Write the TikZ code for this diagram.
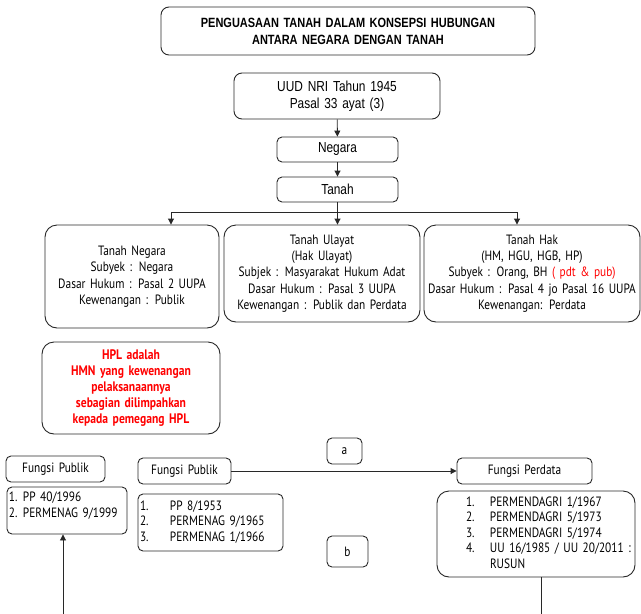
\documentclass[tikz,border=0pt]{standalone}
\usepackage{fontspec}
\setmainfont{PT Sans}[FakeStretch=0.84]
\newfontfamily\arialn{Liberation Sans}[FakeStretch=0.82]
\usetikzlibrary{arrows.meta}
\definecolor{hplred}{RGB}{255,0,0}
\definecolor{edge}{RGB}{40,40,40}

\begin{document}
\begin{tikzpicture}[x=1pt,y=-1pt,
  box/.style={draw=edge,line width=0.9pt,rounded corners=5pt,inner xsep=0pt,inner ysep=0pt,align=center},
  bigbox/.style={box,rounded corners=12pt},
  topfont/.style={font=\arialn\fontsize{14.5}{16.5}\selectfont},
  midfont/.style={font=\fontsize{13.5}{16.3}\selectfont},
  lowfont/.style={font=\fontsize{13.5}{15.5}\selectfont},
  arr/.style={draw=edge,line width=0.9pt,-{Triangle[length=6pt,width=6pt]}},
  ln/.style={draw=edge,line width=0.9pt}]
\useasboundingbox (0,0) rectangle (641,614);

% title and the chain down to Tanah
\node[box,rounded corners=8pt,text width=374pt,minimum height=48pt,
      font=\arialn\bfseries\fontsize{13.4}{17}\selectfont] (title) at (348,31)
      {PENGUASAAN TANAH DALAM KONSEPSI HUBUNGAN\\ANTARA NEGARA DENGAN TANAH};
\node[box,rounded corners=8pt,topfont,text width=206pt,minimum height=46pt] (uud) at (337,96)
      {UUD NRI Tahun 1945\\Pasal 33 ayat (3)};
\node[box,topfont,text width=121pt,minimum height=25pt] (negara) at (337.5,149.5) {Negara};
\node[box,topfont,text width=121pt,minimum height=25pt] (tanah) at (337.5,189.5) {Tanah};
\draw[arr] (uud) -- (negara);
\draw[arr] (negara) -- (tanah);

% three kinds of land
\node[bigbox,midfont,text width=174pt,minimum height=103pt] (tn) at (132,276.5)
      {Tanah Negara\\Subyek : Negara\\Dasar Hukum : Pasal 2 UUPA\\Kewenangan : Publik};
\node[bigbox,midfont,text width=196pt,minimum height=97pt] (tu) at (322,273.5)
      {Tanah Ulayat\\(Hak Ulayat)\\Subjek : Masyarakat Hukum Adat\\Dasar Hukum : Pasal 3 UUPA\\Kewenangan : Publik dan Perdata};
\node[bigbox,midfont,text width=216pt,minimum height=97pt] (th) at (532,273.5)
      {Tanah Hak\\(HM, HGU, HGB, HP)\\Subyek : Orang, BH {\color{hplred}( pdt \& pub)}\\Dasar Hukum : Pasal 4 jo Pasal 16 UUPA\\Kewenangan: Perdata};
\coordinate (jn) at (337.5,212);
\coordinate (jl) at (171,212);
\coordinate (jr) at (517,212);
\draw[ln] (tanah) -- (jn);
\draw[ln] (jl) -- (jr);
\draw[arr] (jl) -- (jl |- tn.north);
\draw[arr] (jn) -- (jn |- tu.north);
\draw[arr] (jr) -- (jr |- th.north);

% HPL note
\node[bigbox,text width=178pt,minimum height=92pt,text=hplred,
      font=\bfseries\fontsize{13.8}{15.8}\selectfont] (hpl) at (131,388)
      {HPL adalah\\HMN yang kewenangan\\pelaksanaannya\\sebagian dilimpahkan\\kepada pemegang HPL};

% functions and their regulations
\node[box,lowfont,text width=99pt,minimum height=26pt] (fp1) at (55.5,469) {Fungsi Publik};
\node[box,lowfont,text width=116pt,inner xsep=2pt,minimum height=47pt,align=left] (list1) at (67,510.5)
      {\begin{tabular}{@{}p{14pt}@{}l@{}}1. & PP 40/1996\\2. & PERMENAG 9/1999\\[8pt]\end{tabular}};
\node[box,lowfont,text width=93pt,minimum height=26pt] (fp2) at (184.5,471) {Fungsi Publik};
\node[box,lowfont,text width=141pt,inner xsep=2pt,minimum height=57pt,align=left] (list2) at (210.5,522.5)
      {\begin{tabular}{@{}p{30pt}@{}l@{}}1. & PP 8/1953\\2. & PERMENAG 9/1965\\3. & PERMENAG 1/1966\end{tabular}};
\node[box,lowfont,text width=35pt,minimum height=26pt] (ta) at (344.5,451) {a};
\node[box,lowfont,text width=41pt,minimum height=31pt] (tb) at (347.5,551.5) {b};
\node[box,lowfont,text width=135pt,minimum height=26pt] (fpd) at (524.5,471) {Fungsi Perdata};
\node[bigbox,lowfont,text width=194pt,inner xsep=2pt,minimum height=86pt,align=left] (list3) at (536,534)
      {\begin{tabular}{@{\hspace{27pt}}p{24pt}@{}l@{}}1. & PERMENDAGRI 1/1967\\2. & PERMENDAGRI 5/1973\\3. & PERMENDAGRI 5/1974\\4. & UU 16/1985 / UU 20/2011 :\\ & RUSUN\end{tabular}};
\draw[arr] (fp2) -- (fpd);
\coordinate (up1) at (63,614);
\coordinate (dn3) at (541,614);
\draw[arr] (up1) -- (up1 |- list1.south);
\draw[ln] (dn3 |- list3.south) -- (dn3);
\end{tikzpicture}
\end{document}
